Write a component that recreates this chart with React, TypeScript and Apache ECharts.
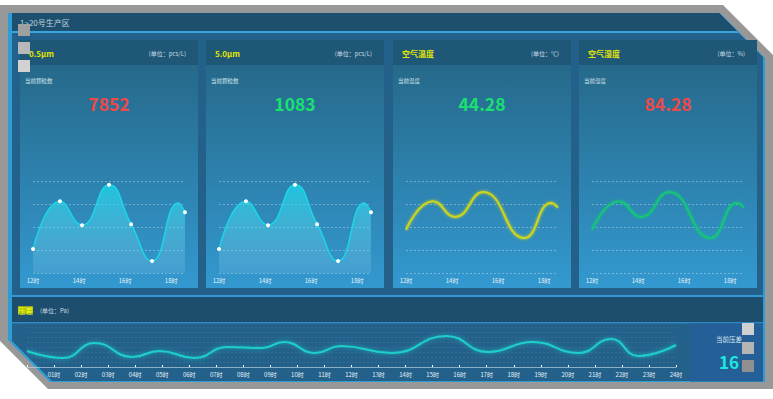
import React, { useEffect, useRef } from 'react';
import * as echarts from 'echarts';

// ---------- data ----------
const sectionTitle = '1~20号生产区';
const cardTitles = ['0.5μm', '5.0μm', '空气温度', '空气湿度'];
const cardUnits = ['(单位：pcs/L)', '(单位：pcs/L)', '(单位：℃)', '(单位：%)'];
const cardLabels = ['当前颗粒数', '当前颗粒数', '当前温度', '当前湿度'];
const cardValues = ['7852', '1083', '44.28', '84.28'];
// particle samples (dots) plus the curve's unmarked crest near the end
const particleHours = [12, 13.17, 14.13, 15.3, 16.26, 17.17, 18.3, 18.6];
const particleMarked = [true, true, true, true, true, true, false, true];
const particle05 = [26, 78, 52, 96, 53, 13, 76, 66];
const particle50 = [26, 78, 52, 96, 53, 13, 76, 66];
const climateHours = [12, 13.17, 14.13, 15.35, 17.13, 18.3, 18.6];
const temperature = [47, 78, 61, 88, 38, 76, 71];
const humidity = [47, 78, 61, 88, 38, 76, 71];
const pressureTitle = '压差';
const pressureUnit = '(单位：Pa)';
const pressureHours = [0, 1.33, 2.5, 3.9, 4.9, 6.2, 7.4, 8.7, 9.5, 10.65, 11.6, 13.5, 15.5, 17.05, 18.7, 20.4, 21.6, 22.6, 24];
const pressureValues = [16, 9, 24, 10, 16, 9, 20, 19, 25, 14, 21, 14, 31, 15, 25, 14, 28, 11, 22];
const pressureLabel = '当前压差';
const pressureCurrent = '16';

// ---------- styling ----------
const FONT = '"Noto Sans CJK SC", "Noto Sans", sans-serif';
const cardLefts = [20, 206, 393, 579];
const CARD_W = 178;
const valueColors = ['#f04848', '#19e070', '#19e070', '#f04848'];
const lineColors = ['#1ad6e6', '#1ad6e6', '#cdd61c', '#14c47a'];

function buildOption() {
  const elements: any[] = [];
  const bg = (e: any) => elements.push({ ...e, z: -10, silent: true });
  const txt = (x: number, y: number, text: string, fill: string, fontSize: number, align = 'left', weight = 'normal', extra: any = {}) =>
    elements.push({
      type: 'text', x, y, z: 50, silent: true,
      style: { text, fill, fontSize, fontFamily: FONT, fontWeight: weight, align, textAlign: align, verticalAlign: 'middle', textVerticalAlign: 'middle', ...extra },
    });

  // frame
  bg({ type: 'polygon', shape: { points: [[0, 5], [723, 5], [773, 55], [773, 389], [48, 389], [0, 341]] }, style: { fill: '#989898' } });
  bg({ type: 'polygon', shape: { points: [[8, 13], [720, 13], [765, 58], [765, 382], [50, 382], [8, 340]] }, style: { fill: '#2e9dd6' } });
  bg({ type: 'polygon', shape: { points: [[12, 13], [719, 13], [763, 57], [763, 381], [52, 381], [12, 341]] }, style: { fill: '#23618b' } });
  // top header strip
  bg({ type: 'polygon', shape: { points: [[12, 13], [719, 13], [737, 31], [12, 31]] }, style: { fill: '#1d4f6e' } });
  bg({ type: 'polygon', shape: { points: [[12, 31], [737, 31], [739, 33], [12, 33]] }, style: { fill: '#3aa4dc' } });
  // cards
  cardLefts.forEach((l) => {
    bg({ type: 'rect', shape: { x: l, y: 40, width: CARD_W, height: 25 }, style: { fill: '#1f5877' } });
    bg({
      type: 'rect', shape: { x: l, y: 65, width: CARD_W, height: 223 },
      style: { fill: new echarts.graphic.LinearGradient(0, 0, 0, 1, [{ offset: 0, color: '#26698a' }, { offset: 1, color: '#3399d0' }]) },
    });
  });
  // pressure section
  bg({ type: 'rect', shape: { x: 12, y: 295, width: 751, height: 2 }, style: { fill: '#3596d3' } });
  bg({ type: 'rect', shape: { x: 12, y: 297, width: 751, height: 25 }, style: { fill: '#1d4e6d' } });
  bg({ type: 'rect', shape: { x: 12, y: 322, width: 751, height: 1.5 }, style: { fill: '#2f88c4' } });
  bg({ type: 'rect', shape: { x: 690, y: 323.5, width: 73, height: 58 }, style: { fill: '#245f97' } });

  // texts
  txt(20, 22, sectionTitle, '#c0d4de', 8);
  cardLefts.forEach((l, i) => {
    txt(l + 9, 53, cardTitles[i], '#e4e600', 8, 'left', 'bold');
    txt(l + CARD_W - 12, 53, cardUnits[i], '#c8dae4', 6, 'right');
    txt(l + 5, 81, cardLabels[i], '#d0e0e8', 5.5);
    txt(l + CARD_W / 2, 103, cardValues[i], valueColors[i], 17.5, 'center', 'bold');
  });
  txt(18, 310, pressureTitle, '#f0ff30', 7.5, 'left', 'normal', { backgroundColor: '#b8c400', padding: [0, 0] });
  txt(40, 310, pressureUnit, '#c8dae4', 6);
  txt(729, 339, pressureLabel, '#d8e6ee', 6.5, 'center');
  txt(729, 361, pressureCurrent, '#1de8e0', 17, 'center', 'bold');

  // gray squares
  const sq = (x: number, y: number, c: string) => elements.push({ type: 'rect', z: 60, silent: true, shape: { x, y, width: 12, height: 12 }, style: { fill: c } });
  sq(18, 24, '#a0a0a0');
  sq(18, 42, '#b8b8b8');
  sq(18, 60, '#d2d2d2');
  sq(742, 323, '#d0d0d0');
  sq(742, 342, '#b4b4b4');
  sq(742, 360, '#909090');

  const grids: any[] = [];
  const xAxes: any[] = [];
  const yAxes: any[] = [];
  const series: any[] = [];
  const cardData = [particle05, particle50, temperature, humidity];

  cardLefts.forEach((l, i) => {
    grids.push({ left: l + 13, top: 181, width: 152, height: 92 });
    xAxes.push({
      type: 'value', gridIndex: i, min: 12, max: 18.6, interval: 2,
      axisLine: { show: false }, axisTick: { show: false }, splitLine: { show: false },
      axisLabel: { color: '#e6f2f8', fontSize: 6, fontFamily: FONT, margin: 4, formatter: (v: number) => (Number.isInteger(v) ? v + '时' : '') },
    });
    yAxes.push({
      type: 'value', gridIndex: i, min: 0, max: 100, interval: 25,
      axisLine: { show: false }, axisTick: { show: false }, axisLabel: { show: false },
      splitLine: { lineStyle: { color: 'rgba(255,255,255,0.32)', type: [2, 2], width: 1 } },
    });
    const area = i < 2;
    const hours = area ? particleHours : climateHours;
    series.push({
      type: 'line', xAxisIndex: i, yAxisIndex: i, smooth: true,
      data: hours.map((h, j) =>
        area
          ? { value: [h, cardData[i][j]], symbol: particleMarked[j] ? 'circle' : 'none' }
          : [h, cardData[i][j]]
      ),
      symbol: 'circle', symbolSize: 4, showSymbol: area, showAllSymbol: true,
      itemStyle: { color: '#ffffff' },
      lineStyle: { color: lineColors[i], width: area ? 1.5 : 2, shadowColor: lineColors[i], shadowBlur: area ? 0 : 3 },
      areaStyle: area
        ? { color: new echarts.graphic.LinearGradient(0, 0, 0, 1, [{ offset: 0, color: 'rgba(24,226,242,1)' }, { offset: 1, color: 'rgba(150,205,232,0.25)' }]) }
        : undefined,
    });
  });

  grids.push({ left: 27, top: 327, width: 649, height: 40 });
  xAxes.push({
    type: 'value', gridIndex: 4, min: 0, max: 24, interval: 1,
    axisLine: { show: true, lineStyle: { color: 'rgba(200,225,240,0.6)' } },
    axisTick: { show: true, inside: true, length: 2, lineStyle: { color: '#ffffff' } },
    splitLine: { show: false },
    axisLabel: { color: '#e6f2f8', fontSize: 6, fontFamily: FONT, margin: 4, formatter: (v: number) => (v === 0 ? '' : String(v).padStart(2, '0') + '时') },
  });
  yAxes.push({
    type: 'value', gridIndex: 4, min: 0, max: 40, interval: 5,
    axisLine: { show: false }, axisTick: { show: false }, axisLabel: { show: false },
    splitLine: { lineStyle: { color: 'rgba(255,255,255,0.08)', type: [2, 2] } },
  });
  series.push({
    type: 'line', xAxisIndex: 4, yAxisIndex: 4, smooth: true, showSymbol: false,
    data: pressureHours.map((h, j) => [h, pressureValues[j]]),
    lineStyle: { color: '#1ecfcb', width: 2, shadowColor: 'rgba(30,230,220,0.6)', shadowBlur: 4 },
  });

  return {
    animation: false,
    graphic: { elements },
    grid: grids,
    xAxis: xAxes,
    yAxis: yAxes,
    series,
  };
}

export default function App() {
  const ref = useRef<HTMLDivElement>(null);
  useEffect(() => {
    if (!ref.current) return;
    const chart = echarts.init(ref.current, null, { renderer: 'svg' });
    chart.setOption(buildOption() as any);
    return () => chart.dispose();
  }, []);
  return <div ref={ref} style={{ position: 'fixed', left: 0, top: 0, width: 773, height: 399, background: '#ffffff' }} />;
}
